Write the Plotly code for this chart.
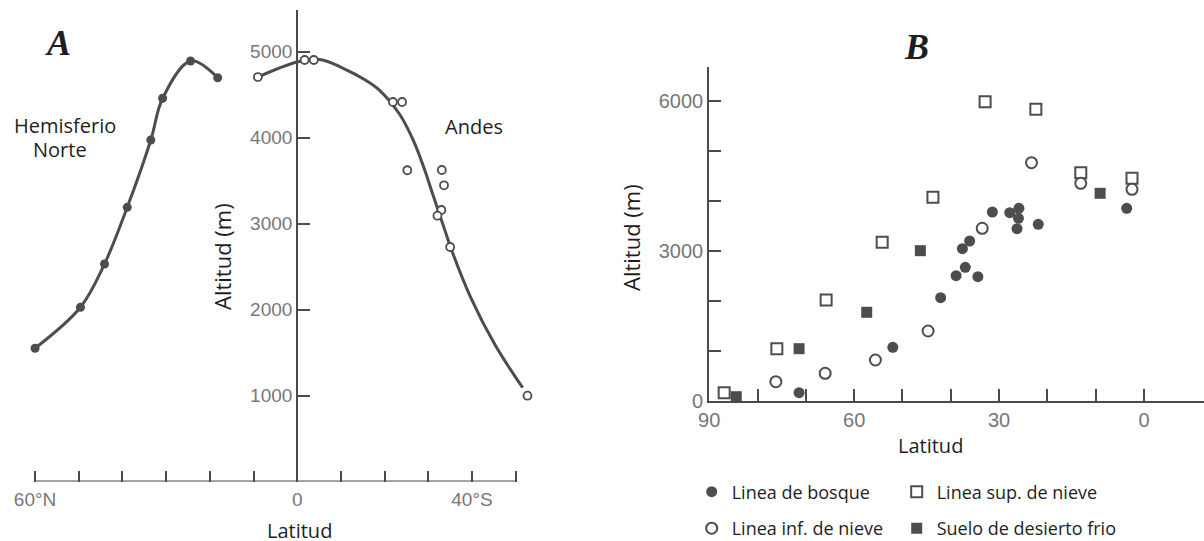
import plotly.graph_objects as go

W, H = 1204, 541

# ---------------- Panel A data ----------------
nh_lat = [-60, -49.6, -44.1, -38.9, -33.5, -30.8, -24.4, -18.2]
nh_alt = [1549, 2026, 2529, 3188, 3971, 4456, 4890, 4695]

andes_lat = [-9.0, 1.7, 3.8, 21.9, 24.0, 25.2, 33.1, 33.6, 33.0, 32.1, 35.0, 52.7]
andes_alt = [4703, 4901, 4901, 4413, 4413, 3619, 3622, 3444, 3157, 3091, 2727, 998]

andes_curve_lat = [-9.0, 0, 5.2, 10.4, 15.6, 18.8, 23.4, 26.6, 28.9, 31.2, 34.0, 35.2, 39.8, 45.3, 51.6]
andes_curve_alt = [4703, 4878, 4907, 4808, 4669, 4552, 4273, 3964, 3662, 3313, 2891, 2710, 2129, 1587, 1091]

a_xticks = [-60, -50, -40, -30, -20, -10, 0, 10, 20, 30, 40, 50]
a_xticklabels = ["60°N", "", "", "", "", "", "0", "", "", "", "40°S", ""]
a_yticks = [1000, 2000, 3000, 4000, 5000]

# ---------------- Panel B data ----------------
bosque_lat = [31.4, 27.8, 25.9, 26.0, 26.3, 21.9, 3.6, 36.1, 37.6, 37.0, 38.9, 34.4, 42.1, 52.0, 71.4]
bosque_alt = [3780, 3766, 3854, 3654, 3446, 3534, 3854, 3200, 3046, 2674, 2506, 2486, 2066, 1074, 166]

inf_nieve_lat = [23.3, 13.1, 2.5, 33.5, 44.7, 55.6, 66.0, 76.2]
inf_nieve_alt = [4766, 4354, 4234, 3454, 1400, 820, 554, 386]

sup_nieve_lat = [32.9, 22.4, 13.1, 2.5, 43.7, 54.2, 65.8, 76.0, 86.9]
sup_nieve_alt = [5986, 5834, 4566, 4454, 4074, 3174, 2020, 1046, 166]

desierto_lat = [9.1, 46.3, 57.4, 71.4, 84.4]
desierto_alt = [4154, 3006, 1774, 1046, 86]

b_xticks = [90, 80, 70, 60, 50, 40, 30, 20, 10, 0]
b_xticklabels = ["90", "", "", "60", "", "", "30", "", "", "0"]
b_yticks = [0, 1000, 2000, 3000, 4000, 5000, 6000]
b_yticklabels = ["0", "", "", "3000", "", "", "6000"]

# ---------------- styling ----------------
INK = "#4d4d4d"
AXIS = "#4a4a4a"
TICKC = "#777777"
TXT = "#1e1e1e"
SANS = "Open Sans"
TICKF = "Liberation Sans"


def fx(px):
    return px / W


def fy(py):
    return 1 - py / H


# panel A geometry (pixels)
a_x0px, a_scale = 297.2, 4.3695          # px of lat 0, px per degree
a_range = [-61, 54]
a_dom = [fx(a_x0px + a_scale * a_range[0]), fx(a_x0px + a_scale * a_range[1])]
a_y0px, a_yscale = 481.5, 0.086          # px of 0 m, px per metre
a_yrange = [0, 5480]
a_ydom = [fy(a_y0px), fy(a_y0px - a_yscale * a_yrange[1])]

# panel B geometry
b_range = [90, -12.4]
b_dom = [fx(709.2), 1.0]
b_yrange = [0, 6686]
b_ydom = [fy(401), fy(66.7)]

fig = go.Figure()

# Panel A traces
fig.add_trace(go.Scatter(
    x=nh_lat, y=nh_alt, mode="lines+markers", xaxis="x", yaxis="y",
    line=dict(color=INK, width=3, shape="spline", smoothing=1.0),
    marker=dict(color=INK, size=9), showlegend=False, hoverinfo="skip", cliponaxis=False))
fig.add_trace(go.Scatter(
    x=andes_curve_lat, y=andes_curve_alt, mode="lines", xaxis="x", yaxis="y",
    line=dict(color=INK, width=3, shape="spline", smoothing=1.0),
    showlegend=False, hoverinfo="skip"))
fig.add_trace(go.Scatter(
    x=andes_lat, y=andes_alt, mode="markers", xaxis="x", yaxis="y",
    marker=dict(color="white", size=8, line=dict(color=INK, width=1.8)),
    showlegend=False, hoverinfo="skip", cliponaxis=False))

# Panel B traces
fig.add_trace(go.Scatter(
    x=bosque_lat, y=bosque_alt, mode="markers", xaxis="x2", yaxis="y2",
    name="Linea de bosque", legend="legend",
    marker=dict(color=INK, size=11, symbol="circle"), cliponaxis=False))
fig.add_trace(go.Scatter(
    x=sup_nieve_lat, y=sup_nieve_alt, mode="markers", xaxis="x2", yaxis="y2",
    name="Linea sup. de nieve", legend="legend2",
    marker=dict(color="white", size=11, symbol="square", line=dict(color=INK, width=2)),
    cliponaxis=False))
fig.add_trace(go.Scatter(
    x=inf_nieve_lat, y=inf_nieve_alt, mode="markers", xaxis="x2", yaxis="y2",
    name="Linea inf. de nieve", legend="legend3",
    marker=dict(color="white", size=11, symbol="circle", line=dict(color=INK, width=2)),
    cliponaxis=False))
fig.add_trace(go.Scatter(
    x=desierto_lat, y=desierto_alt, mode="markers", xaxis="x2", yaxis="y2",
    name="Suelo de desierto frio", legend="legend4",
    marker=dict(color=INK, size=11, symbol="square"), cliponaxis=False))

tickfont = dict(family=TICKF, size=19, color=TICKC)
tickfontB = dict(family=TICKF, size=20, color=TICKC)

layout = dict(
    width=W, height=H, margin=dict(l=0, r=0, t=0, b=0, pad=0, autoexpand=False),
    paper_bgcolor="white", plot_bgcolor="white", hovermode=False,
    xaxis=dict(domain=a_dom, range=a_range, anchor="y", showline=False, showgrid=False,
               zeroline=False, ticks="inside", ticklen=11, tickwidth=2, tickcolor=AXIS,
               tickvals=a_xticks, ticktext=a_xticklabels, tickfont=tickfont,
               ticklabelstandoff=4, automargin=False),
    yaxis=dict(domain=a_ydom, range=a_yrange, anchor="free", position=fx(a_x0px),
               showline=True, linecolor=AXIS, linewidth=2, showgrid=False, zeroline=False,
               ticks="inside", ticklen=12, tickwidth=2, tickcolor=AXIS,
               tickvals=a_yticks, tickfont=tickfont, automargin=False),
    xaxis2=dict(domain=b_dom, range=b_range, anchor="y2", showline=True, linecolor=AXIS,
                linewidth=2, showgrid=False, zeroline=False, ticks="inside", ticklen=12,
                tickwidth=2, tickcolor=AXIS, tickvals=b_xticks, ticktext=b_xticklabels,
                tickfont=tickfontB, automargin=False),
    yaxis2=dict(domain=b_ydom, range=b_yrange, anchor="x2", showline=True, linecolor=AXIS,
                linewidth=2, showgrid=False, zeroline=False, ticks="inside", ticklen=12,
                tickwidth=2, tickcolor=AXIS, tickvals=b_yticks, ticktext=b_yticklabels,
                tickfont=tickfontB, automargin=False),
    shapes=[dict(type="line", xref="x", yref="y", x0=-60, x1=50, y0=0, y1=0,
                 line=dict(color=AXIS, width=2))],
)

legfont = dict(family=SANS, size=18, color=TXT)
leg_pos = [(711.7, 492), (916.7, 492), (711.7, 528.5), (916.7, 528.5)]
for i, (sx, sy) in enumerate(leg_pos):
    key = "legend" if i == 0 else f"legend{i+1}"
    layout[key] = dict(x=fx(sx - 20), y=fy(sy), xanchor="left", yanchor="middle",
                       font=legfont, bgcolor="rgba(0,0,0,0)", borderwidth=0)

ann = []


def add_text(t, px, py, size=20, family=SANS, angle=0, **font_extra):
    ann.append(dict(text=t, x=fx(px), y=fy(py), xref="paper", yref="paper",
                    xanchor="center", yanchor="middle", showarrow=False, textangle=angle,
                    font=dict(family=family, size=size, color=TXT, **font_extra)))


add_text("A", 58, 43, size=36, family="Liberation Serif", weight="bold", style="italic")
add_text("B", 916, 47, size=36, family="Liberation Serif", weight="bold", style="italic")
add_text("Hemisferio", 65, 125)
add_text("Norte", 60, 150)
add_text("Andes", 474, 126)
add_text("Altitud (m)", 222, 256, size=22, angle=-90)
add_text("Latitud", 299, 530)
add_text("Altitud (m)", 631, 238, size=22, angle=-90)
add_text("Latitud", 930, 445)
layout["annotations"] = ann

fig.update_layout(**layout)
fig.write_html("out.html", config={"displayModeBar": False},
               post_script="document.body.style.margin='0';document.body.style.overflow='hidden';")
